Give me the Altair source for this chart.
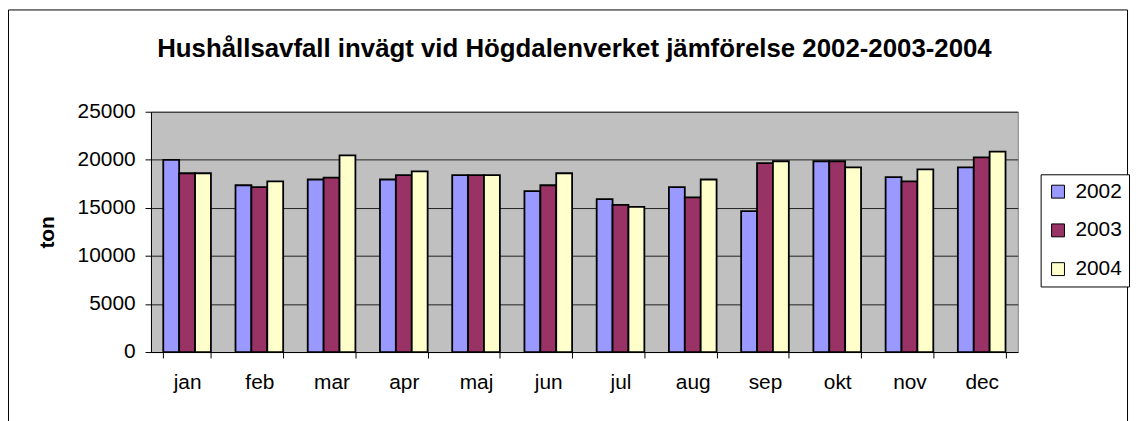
import altair as alt
import pandas as pd

months = ["jan", "feb", "mar", "apr", "maj", "jun", "jul", "aug", "sep", "okt", "nov", "dec"]
years = ["2002", "2003", "2004"]
v2002 = [20000, 17350, 17950, 17950, 18400, 16750, 15900, 17150, 14650, 19850, 18200, 19200]
v2003 = [18600, 17150, 18150, 18400, 18400, 17350, 15300, 16100, 19650, 19850, 17750, 20250]
v2004 = [18600, 17750, 20450, 18800, 18400, 18600, 15100, 17950, 19850, 19200, 19000, 20850]
colors = ["#9999FF", "#993366", "#FFFFCC"]
y_ticks = [0, 5000, 10000, 15000, 20000, 25000]

rows = []
for yr, vals in zip(years, [v2002, v2003, v2004]):
    for m, v in zip(months, vals):
        rows.append({"month": m, "year": yr, "ton": v})
df = pd.DataFrame(rows)

W, H = 873, 242

bars = alt.Chart(df).mark_bar(stroke="black", strokeWidth=1.8, opacity=1).encode(
    x=alt.X("month:N", sort=months,
            scale=alt.Scale(paddingInner=0.34, paddingOuter=0.17),
            axis=alt.Axis(title=None, labelAngle=0, tickBand="extent", tickSize=6,
                          labelPadding=14, labelFontSize=21, domainColor="black",
                          tickColor="black", labelColor="black", labelFont="Liberation Sans")),
    xOffset=alt.XOffset("year:N", sort=years, scale=alt.Scale(paddingInner=0, paddingOuter=0)),
    y=alt.Y("ton:Q", scale=alt.Scale(domain=[0, 25000], nice=False),
            axis=alt.Axis(values=y_ticks, format="d", title="ton", tickSize=6, labelPadding=10,
                          labelFontSize=21, labelFont="Liberation Sans", labelColor="black",
                          domainColor="black", tickColor="black",
                          grid=True, gridColor="#222222", gridWidth=1,
                          titleFontSize=21, titleFont="Liberation Sans", titleFontWeight="bold",
                          titleAngle=-90, titleX=-104, titleY=121, titleAlign="center",
                          titleBaseline="middle", titleColor="black")),
    color=alt.Color("year:N", sort=years,
                    scale=alt.Scale(domain=years, range=colors),
                    legend=alt.Legend(title=None, orient="none", legendX=896, legendY=63,
                                      symbolType="square", symbolSize=169,
                                      symbolStrokeColor="black", symbolStrokeWidth=1,
                                      symbolOpacity=1, labelFontSize=21,
                                      labelFont="Liberation Sans", labelColor="black",
                                      labelOffset=7, rowPadding=17, padding=7,
                                      fillColor="white", strokeColor="black")),
)

frame = alt.Chart(alt.Data(values=[{}])).mark_rect(
    fill=None, stroke="black", strokeWidth=1, clip=False
).encode(
    x=alt.value(-143.5), x2=alt.value(983.5), y=alt.value(-102.5), y2=alt.value(330)
)

chart = alt.layer(bars, frame).properties(
    width=W, height=H,
    autosize=alt.AutoSizeParams(type="none"),
    padding={"left": 144, "top": 103, "right": 114, "bottom": 68},
    background="white",
    title=alt.TitleParams(
        "Hushållsavfall invägt vid Högdalenverket jämförelse 2002-2003-2004",
        font="Liberation Sans", fontSize=26, fontWeight="bold", color="black",
        anchor="middle", baseline="alphabetic", offset=-74, dx=-10,
    ),
).configure_view(fill="#C0C0C0", stroke="#808080", strokeWidth=1)

chart.save("out.html", embed_options={"renderer": "svg", "actions": False})
